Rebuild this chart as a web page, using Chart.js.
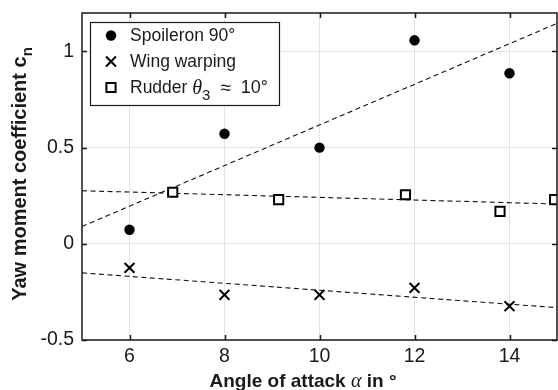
<!DOCTYPE html>
<html>
<head>
<meta charset="utf-8">
<script src="https://cdn.jsdelivr.net/npm/chart.js@4.4.1/dist/chart.umd.min.js"></script>
<style>
  html, body { margin: 0; padding: 0; background: #fff; }
  canvas { display: block; }
</style>
</head>
<body>
<canvas id="yawChart" width="558" height="390"></canvas>
<script>
// angle of attack (deg) for spoileron and wing warping runs
const alphaSteps = [6, 8, 10, 12, 14];
const spoileronCn = [0.073, 0.572, 0.5, 1.058, 0.887];
const warpingCn = [-0.125, -0.265, -0.265, -0.229, -0.324];
// rudder runs were flown at slightly different angles
const rudderAlpha = [6.91, 9.14, 11.81, 13.8, 14.95];
const rudderCn = [0.268, 0.23, 0.255, 0.169, 0.23];

// linear fits, evaluated at both ends of the alpha range
const fitAlpha = [5, 15];
const spoileronFit = [0.09, 1.146];
const warpingFit = [-0.151, -0.332];
const rudderFit = [0.276, 0.207];

const xTicks = [6, 8, 10, 12, 14];
const yTicks = [-0.5, 0, 0.5, 1];

const SANS = '"Liberation Sans", Arial, Helvetica, sans-serif';
const SERIF = '"Liberation Serif", "Times New Roman", serif';
const INK = '#1a1a1a';

const pts = (xs, ys) => xs.map((x, i) => ({ x, y: ys[i] }));

// draw a row of text pieces with their own fonts / baseline shifts
function drawRuns(ctx, runs, x, y) {
  let cx = x;
  runs.forEach(r => {
    cx += r.gap || 0;
    ctx.font = r.font;
    ctx.fillText(r.text, cx, y + (r.dy || 0));
    cx += ctx.measureText(r.text).width;
  });
  return cx - x;
}
function runsWidth(ctx, runs) {
  let w = 0;
  runs.forEach(r => { ctx.font = r.font; w += (r.gap || 0) + ctx.measureText(r.text).width; });
  return w;
}

// box round the axes with inward tick marks on all four sides
const frame = {
  id: 'frame',
  afterDatasetsDraw(chart) {
    const { ctx, chartArea: a, scales: { x, y } } = chart;
    const tl = 5;
    ctx.save();
    ctx.strokeStyle = INK;
    ctx.lineWidth = 1.5;
    ctx.beginPath();
    xTicks.forEach(v => {
      const px = Math.round(x.getPixelForValue(v)) + 0.5;
      ctx.moveTo(px, a.bottom); ctx.lineTo(px, a.bottom - tl);
      ctx.moveTo(px, a.top); ctx.lineTo(px, a.top + tl);
    });
    yTicks.forEach(v => {
      const py = Math.round(y.getPixelForValue(v)) + 0.5;
      ctx.moveTo(a.left, py); ctx.lineTo(a.left + tl, py);
      ctx.moveTo(a.right, py); ctx.lineTo(a.right - tl, py);
    });
    ctx.stroke();
    ctx.strokeRect(a.left, a.top, a.right - a.left, a.bottom - a.top);
    ctx.restore();
  }
};

// legend with math-style label for the rudder entry
const legendBox = {
  id: 'legendBox',
  afterDraw(chart) {
    const ctx = chart.ctx;
    const f = '17.5px ' + SANS;
    const rows = [
      { ds: 0, runs: [{ text: 'Spoileron 90°', font: f }] },
      { ds: 1, runs: [{ text: 'Wing warping', font: f }] },
      { ds: 2, runs: [
        { text: 'Rudder ', font: f },
        { text: 'θ', font: 'italic 20px ' + SERIF },
        { text: '3', font: '15px ' + SANS, dy: 7 },
        { text: '≈', font: '19px ' + SANS, gap: 10 },
        { text: '10°', font: '18px ' + SANS, gap: 10 }
      ] }
    ];
    const left = 90.5, top = 22.5, right = 279.5, bottom = 105.5;
    ctx.save();
    ctx.fillStyle = '#fff';
    ctx.fillRect(left, top, right - left, bottom - top);
    ctx.strokeStyle = INK;
    ctx.lineWidth = 1.2;
    ctx.strokeRect(left, top, right - left, bottom - top);
    rows.forEach((row, i) => {
      const cy = 35.5 + i * 26;
      const ds = chart.data.datasets[row.ds];
      ctx.fillStyle = ds.pointBackgroundColor;
      ctx.strokeStyle = ds.pointBorderColor;
      ctx.lineWidth = ds.pointBorderWidth;
      Chart.helpers.drawPoint(ctx, {
        pointStyle: ds.pointStyle,
        radius: ds.pointRadius,
        borderWidth: ds.pointBorderWidth,
        rotation: 0
      }, 111, cy);
      ctx.fillStyle = INK;
      ctx.textBaseline = 'middle';
      ctx.textAlign = 'left';
      drawRuns(ctx, row.runs, 130, cy + 1);
    });
    ctx.restore();
  }
};

// axis titles (subscripts and greek letters need mixed fonts)
const axisTitles = {
  id: 'axisTitles',
  afterDraw(chart) {
    const ctx = chart.ctx;
    const b = 'bold 19px ' + SANS;
    ctx.save();
    ctx.fillStyle = INK;
    ctx.textBaseline = 'alphabetic';
    ctx.textAlign = 'left';

    const xRuns = [
      { text: 'Angle of attack ', font: b },
      { text: 'α', font: 'italic 20px ' + SERIF },
      { text: ' in °', font: b }
    ];
    const xw = runsWidth(ctx, xRuns);
    drawRuns(ctx, xRuns, 303 - xw / 2, 387);

    const yRuns = [
      { text: 'Yaw moment coefficient c', font: 'bold 20px ' + SANS },
      { text: 'n', font: 'bold 15px ' + SANS, dy: 6 }
    ];
    const yw = runsWidth(ctx, yRuns);
    ctx.translate(26, 174);
    ctx.rotate(-Math.PI / 2);
    drawRuns(ctx, yRuns, -yw / 2, 0);
    ctx.restore();
  }
};

const tickFont = { family: SANS, size: 19.5 };

new Chart(document.getElementById('yawChart'), {
  type: 'scatter',
  data: {
    datasets: [
      {
        label: 'Spoileron 90°',
        data: pts(alphaSteps, spoileronCn),
        pointStyle: 'circle',
        pointRadius: 5.2,
        pointBackgroundColor: '#000',
        pointBorderColor: '#000',
        pointBorderWidth: 0,
        order: 0
      },
      {
        label: 'Wing warping',
        data: pts(alphaSteps, warpingCn),
        pointStyle: 'crossRot',
        pointRadius: 7,
        pointBackgroundColor: '#000',
        pointBorderColor: '#000',
        pointBorderWidth: 2,
        order: 0
      },
      {
        label: 'Rudder',
        data: pts(rudderAlpha, rudderCn),
        pointStyle: 'rect',
        pointRadius: 6.5,
        pointBackgroundColor: '#fff',
        pointBorderColor: '#000',
        pointBorderWidth: 2,
        order: 0
      },
      { data: pts(fitAlpha, spoileronFit), order: 1 },
      { data: pts(fitAlpha, warpingFit), order: 1 },
      { data: pts(fitAlpha, rudderFit), order: 1 }
    ].map(ds => ds.order === 1 ? Object.assign(ds, {
      showLine: true,
      pointRadius: 0,
      borderColor: '#111',
      borderWidth: 1.1,
      borderDash: [5, 3.5]
    }) : ds)
  },
  options: {
    responsive: false,
    animation: false,
    devicePixelRatio: 1,
    events: [],
    layout: { autoPadding: false, padding: { top: 13, right: 1, left: 0, bottom: 0 } },
    plugins: { legend: { display: false }, tooltip: { enabled: false } },
    scales: {
      x: {
        type: 'linear',
        min: 5,
        max: 15,
        afterBuildTicks: s => { s.ticks = xTicks.map(v => ({ value: v })); },
        afterFit: s => { s.height = 50; s.paddingLeft = 0; s.paddingRight = 0; },
        ticks: { font: tickFont, color: INK, padding: 5, maxRotation: 0, autoSkip: false, callback: v => String(v) },
        grid: { color: '#e3e3e3', lineWidth: 1, drawTicks: false },
        border: { display: false }
      },
      y: {
        type: 'linear',
        min: -0.5,
        max: 1.2,
        afterBuildTicks: s => { s.ticks = yTicks.map(v => ({ value: v })); },
        afterFit: s => { s.width = 82; s.paddingTop = 0; s.paddingBottom = 0; },
        ticks: { font: tickFont, color: INK, padding: 8, autoSkip: false, callback: v => String(v) },
        grid: { color: '#e3e3e3', lineWidth: 1, drawTicks: false },
        border: { display: false }
      }
    }
  },
  plugins: [frame, legendBox, axisTitles]
});
</script>
</body>
</html>
